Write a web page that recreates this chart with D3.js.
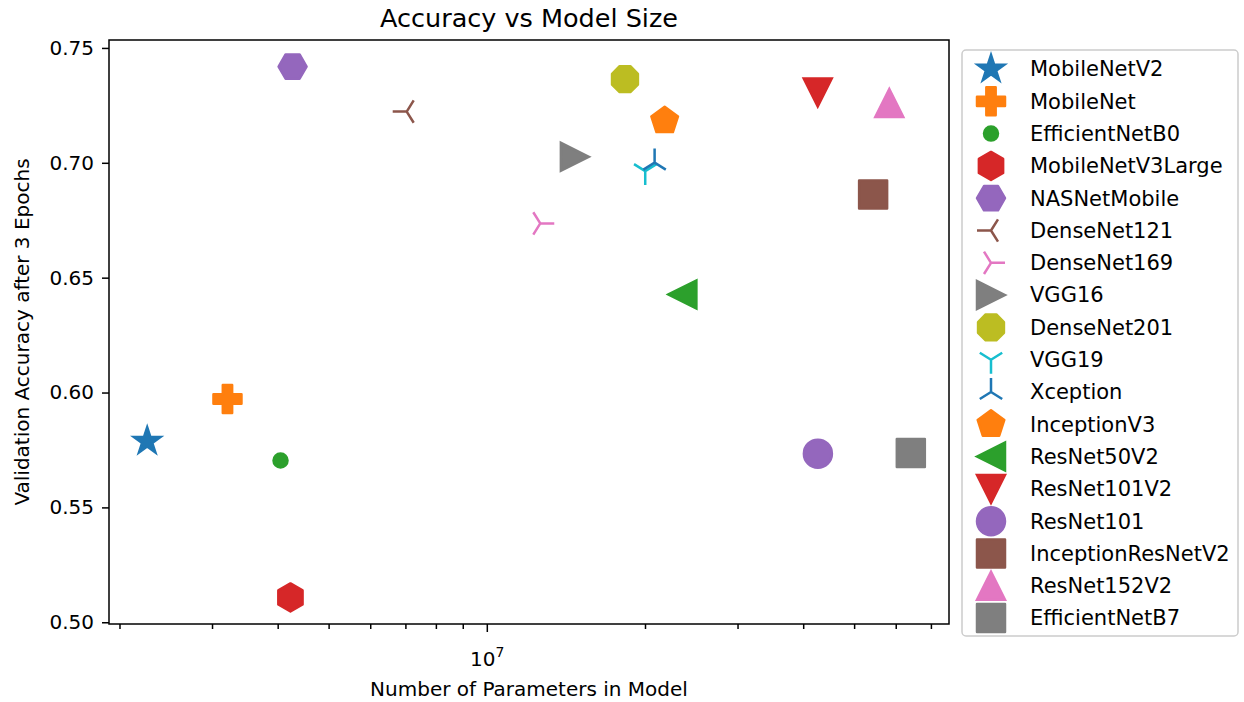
<!DOCTYPE html>
<html>
<head>
<meta charset="utf-8">
<script src="https://cdn.jsdelivr.net/npm/d3@7"></script>
<style>
  body { margin: 0; background: #fff; }
  text { font-family: "DejaVu Sans", sans-serif; fill: #000; }
</style>
</head>
<body>
<svg id="chart" width="1244" height="702"></svg>
<script>
// model names, parameter counts and accuracy after 3 epochs
var models = ["MobileNetV2", "MobileNet", "EfficientNetB0", "MobileNetV3Large", "NASNetMobile",
  "DenseNet121", "DenseNet169", "VGG16", "DenseNet201", "VGG19", "Xception", "InceptionV3",
  "ResNet50V2", "ResNet101V2", "ResNet101", "InceptionResNetV2", "ResNet152V2", "EfficientNetB7"];
var params = [2.258e6, 3.21e6, 4.05e6, 4.23e6, 4.27e6,
  7.04e6, 1.264e7, 1.471e7, 1.832e7, 2.002e7, 2.086e7, 2.18e7,
  2.356e7, 4.263e7, 4.266e7, 5.434e7, 5.833e7, 6.41e7];
var accuracy = [0.5788, 0.5972, 0.5704, 0.5108, 0.7419,
  0.7223, 0.6736, 0.7026, 0.7364, 0.6964, 0.7001, 0.7183,
  0.6427, 0.7306, 0.5734, 0.6862, 0.7260, 0.5737];
var yTicks = [0.50, 0.55, 0.60, 0.65, 0.70, 0.75];
var xMajorTicks = [1e7];

// matplotlib marker per model (style, not data)
var shapes = ["*", "P", ".", "h", "H", "3", "4", ">", "8", "1", "2", "p", "<", "v", "o", "s", "^", "s"];
var colors = ["#1f77b4", "#ff7f0e", "#2ca02c", "#d62728", "#9467bd", "#8c564b", "#e377c2",
  "#7f7f7f", "#bcbd22", "#17becf"];

var margin = {left: 109, top: 40, right: 295, bottom: 78},
    width = 1244 - margin.left - margin.right,
    height = 702 - margin.top - margin.bottom;

var S = 28,   // marker size px
    LW = 2.5; // marker edge width

var svg = d3.select("#chart");
var g = svg.append("g").attr("transform", "translate(" + margin.left + "," + margin.top + ")");

// autoscale like matplotlib: 5% margin (in log space for x)
var lx = d3.extent(params, function (d) { return Math.log10(d); });
var lpad = (lx[1] - lx[0]) * 0.05;
var x = d3.scaleLog()
    .domain([Math.pow(10, lx[0] - lpad), Math.pow(10, lx[1] + lpad)])
    .range([0, width]);

var ey = d3.extent(accuracy);
var ypad = (ey[1] - ey[0]) * 0.05;
var y = d3.scaleLinear()
    .domain([ey[0] - ypad, ey[1] + ypad])
    .range([height, 0]);

function poly(n, r, rot) {
  var pts = d3.range(n).map(function (k) {
    var a = rot + k * 2 * Math.PI / n;
    return [r * Math.sin(a), -r * Math.cos(a)];
  });
  return "M" + pts.join("L") + "Z";
}

function markerPath(m) {
  var r = S / 2;
  switch (m) {
    case "*":
      var pts = d3.range(10).map(function (k) {
        var rr = k % 2 ? r * 0.381966 : r, a = k * Math.PI / 5;
        return [rr * Math.sin(a), -rr * Math.cos(a)];
      });
      return "M" + pts.join("L") + "Z";
    case "P":
      var u = S / 6;
      var p = [[-1, -3], [1, -3], [1, -1], [3, -1], [3, 1], [1, 1], [1, 3], [-1, 3], [-1, 1], [-3, 1], [-3, -1], [-1, -1]];
      return "M" + p.map(function (q) { return [q[0] * u, q[1] * u]; }).join("L") + "Z";
    case ".":
      var c = S / 4;
      return "M" + (-c) + ",0A" + c + "," + c + " 0 1,0 " + c + ",0A" + c + "," + c + " 0 1,0 " + (-c) + ",0Z";
    case "o":
      return "M" + (-r) + ",0A" + r + "," + r + " 0 1,0 " + r + ",0A" + r + "," + r + " 0 1,0 " + (-r) + ",0Z";
    case "h": return poly(6, r, 0);
    case "H": return poly(6, r, Math.PI / 6);
    case "8": return poly(8, r, Math.PI / 8);
    case "p": return poly(5, r, 0);
    case "s": return "M" + (-r) + "," + (-r) + "H" + r + "V" + r + "H" + (-r) + "Z";
    case "^": return "M0," + (-r) + "L" + (-r) + "," + r + "L" + r + "," + r + "Z";
    case "v": return "M0," + r + "L" + (-r) + "," + (-r) + "L" + r + "," + (-r) + "Z";
    case "<": return "M" + (-r) + ",0L" + r + "," + (-r) + "L" + r + "," + r + "Z";
    case ">": return "M" + r + ",0L" + (-r) + "," + (-r) + "L" + (-r) + "," + r + "Z";
    case "1": return "M0,0L0," + r + "M0,0L" + (0.8 * r) + "," + (-0.5 * r) + "M0,0L" + (-0.8 * r) + "," + (-0.5 * r);
    case "2": return "M0,0L0," + (-r) + "M0,0L" + (0.8 * r) + "," + (0.5 * r) + "M0,0L" + (-0.8 * r) + "," + (0.5 * r);
    case "3": return "M0,0L" + (-r) + ",0M0,0L" + (0.5 * r) + "," + (0.8 * r) + "M0,0L" + (0.5 * r) + "," + (-0.8 * r);
    case "4": return "M0,0L" + r + ",0M0,0L" + (-0.5 * r) + "," + (0.8 * r) + "M0,0L" + (-0.5 * r) + "," + (-0.8 * r);
  }
}

function isLine(m) { return "1234".indexOf(m) >= 0; }

function drawMarker(sel, i) {
  var m = shapes[i], col = colors[i % 10];
  sel.append("path")
      .attr("d", markerPath(m))
      .attr("fill", isLine(m) ? "none" : col)
      .attr("stroke", col)
      .attr("stroke-width", LW)
      .attr("stroke-linejoin", "<>^v*".indexOf(m) >= 0 ? "miter" : "round");
}

// x axis: one major decade tick, minor ticks 2..9
var minor = [];
[1e6, 1e7].forEach(function (dec) {
  d3.range(2, 10).forEach(function (k) {
    var v = k * dec;
    if (v > x.domain()[0] && v < x.domain()[1]) minor.push(v);
  });
});

var xAxisG = g.append("g").attr("transform", "translate(0," + height + ")");
xAxisG.append("g")
    .call(d3.axisBottom(x).tickValues(minor).tickSize(5).tickFormat(""))
    .call(function (a) { a.select(".domain").remove(); });
var xMaj = xAxisG.append("g")
    .call(d3.axisBottom(x).tickValues(xMajorTicks).tickSize(8).tickPadding(9).tickFormat(""))
    .call(function (a) { a.select(".domain").remove(); });
xMaj.selectAll(".tick").append("text")
    .attr("y", 42)
    .attr("text-anchor", "middle")
    .style("font-size", "20px")
    .each(function (d) {
      var t = d3.select(this);
      t.append("tspan").text("10");
      t.append("tspan").attr("dy", -9).style("font-size", "14px").text(Math.round(Math.log10(d)));
    });
xAxisG.selectAll("line").attr("stroke", "#000").attr("stroke-width", 1.5);

// y axis
var yAxisG = g.append("g")
    .call(d3.axisLeft(y).tickValues(yTicks).tickSize(7).tickPadding(8).tickFormat(d3.format(".2f")));
yAxisG.select(".domain").remove();
yAxisG.selectAll("line").attr("stroke", "#000").attr("stroke-width", 1.5);
yAxisG.selectAll("text").style("font-size", "20px").attr("font-family", "DejaVu Sans").attr("fill", "#000");

// frame
g.append("rect")
    .attr("width", width).attr("height", height)
    .attr("fill", "none").attr("stroke", "#000").attr("stroke-width", 1.5);

// points
var plot = g.append("g");
models.forEach(function (name, i) {
  plot.append("g")
      .attr("transform", "translate(" + x(params[i]) + "," + y(accuracy[i]) + ")")
      .call(drawMarker, i);
});

// titles
svg.append("text")
    .attr("x", margin.left + width / 2).attr("y", 27)
    .attr("text-anchor", "middle").style("font-size", "25.5px")
    .text("Accuracy vs Model Size");
svg.append("text")
    .attr("x", margin.left + width / 2).attr("y", 696)
    .attr("text-anchor", "middle").style("font-size", "20px")
    .text("Number of Parameters in Model");
svg.append("text")
    .attr("transform", "translate(29," + (margin.top + height / 2) + ") rotate(-90)")
    .attr("text-anchor", "middle").style("font-size", "20px")
    .text("Validation Accuracy after 3 Epochs");

// legend
var lg = svg.append("g").attr("transform", "translate(962,50)");
lg.append("rect")
    .attr("width", 276).attr("height", 586).attr("rx", 4)
    .attr("fill", "#fff").attr("stroke", "#cccccc").attr("stroke-width", 1.5);
models.forEach(function (name, i) {
  var row = lg.append("g").attr("transform", "translate(0," + (19 + i * 32.3) + ")");
  row.append("g").attr("transform", "translate(29,0)").call(drawMarker, i);
  row.append("text").attr("x", 68).attr("dy", "0.35em").style("font-size", "21px").text(name);
});
</script>
</body>
</html>
